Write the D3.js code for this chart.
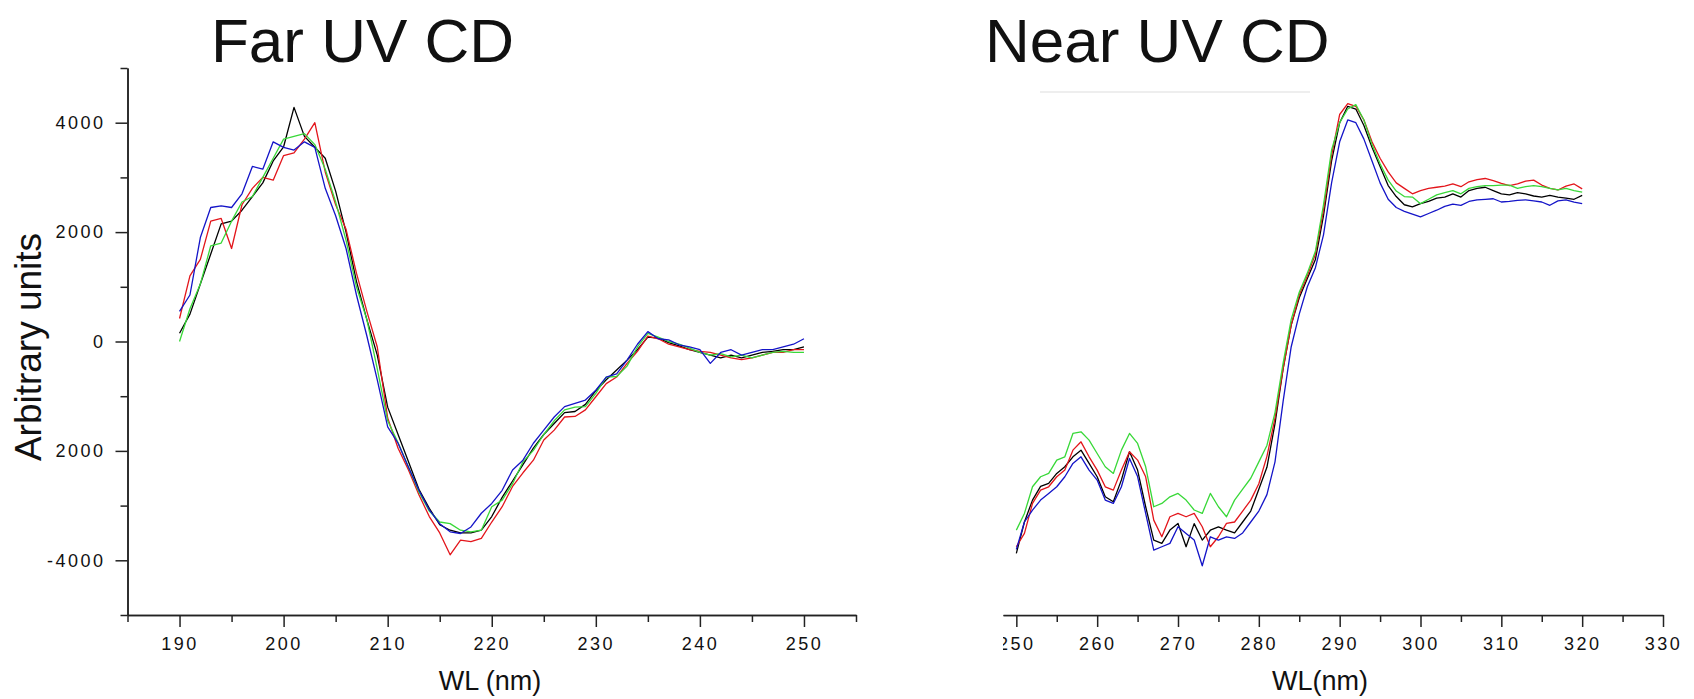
<!DOCTYPE html>
<html>
<head>
<meta charset="utf-8">
<script src="https://cdn.jsdelivr.net/npm/d3@7"></script>
<style>
  body { margin: 0; background: #fff; }
  svg text { font-family: "Liberation Sans", Arial, sans-serif; fill: #111; }
</style>
</head>
<body>
<svg id="chart" width="1694" height="699"></svg>
<script>
// wavelength grids (nm)
const farWl = d3.range(190, 251);
const nearWl = d3.range(250, 321);

// Far UV CD, 190..250 nm
const farBlack = [150, 500, 1050, 1600, 2150, 2200, 2400, 2650, 2900, 3300,
  3560, 4280, 3750, 3550, 3350, 2750, 2000, 1100, 400, -250,
  -1200, -1700, -2200, -2700, -3050, -3350, -3450, -3500, -3500, -3450,
  -3200, -2850, -2550, -2250, -1950, -1700, -1500, -1300, -1280, -1150,
  -900, -700, -520, -340, -150, 80, 60, -20, -80, -150,
  -200, -250, -300, -250, -300, -250, -200, -180, -150, -150, -100];
const farRed = [420, 1200, 1500, 2200, 2250, 1700, 2500, 2800, 3000, 2950,
  3400, 3450, 3700, 4000, 3100, 2500, 2050, 1250, 550, -100,
  -1400, -1950, -2350, -2800, -3200, -3500, -3900, -3630, -3660, -3600,
  -3300, -3020, -2650, -2400, -2170, -1800, -1620, -1380, -1370, -1250,
  -1010, -770, -650, -400, -180, 100, 50, -50, -100, -150,
  -180, -200, -250, -300, -330, -300, -250, -200, -200, -150, -150];
const farGreen = [0, 600, 1050, 1750, 1800, 2200, 2550, 2650, 3000, 3350,
  3700, 3750, 3800, 3600, 3150, 2550, 1850, 1000, 400, -500,
  -1450, -1850, -2300, -2750, -3100, -3300, -3330, -3450, -3480, -3450,
  -3020, -2900, -2600, -2200, -1990, -1700, -1450, -1250, -1200, -1190,
  -950, -650, -640, -450, -100, 150, 80, 0, -50, -120,
  -200, -250, -220, -280, -250, -300, -250, -200, -180, -200, -200];
const farBlue = [550, 850, 1900, 2450, 2480, 2450, 2700, 3200, 3150, 3650,
  3550, 3500, 3650, 3550, 2800, 2300, 1700, 850, 100, -700,
  -1560, -1860, -2300, -2720, -3080, -3330, -3480, -3510, -3390, -3140,
  -2960, -2720, -2350, -2170, -1860, -1620, -1380, -1190, -1130, -1070,
  -890, -650, -590, -340, -50, 180, 50, 30, -60, -100,
  -150, -400, -200, -150, -250, -200, -150, -150, -100, -50, 50];

// Near UV CD, 250..320 nm
const nearBlack = [-3874, -3300, -2900, -2650, -2595, -2412, -2290, -2108, -1986, -2229,
  -2473, -2839, -2930, -2530, -2016, -2351, -3021, -3630, -3691, -3448,
  -3326, -3752, -3330, -3630, -3450, -3390, -3450, -3500, -3300, -3100,
  -2700, -2300, -1500, -500, 300, 800, 1150, 1500, 2300, 3300,
  4000, 4300, 4250, 3950, 3550, 3200, 2850, 2650, 2500, 2460,
  2520, 2560, 2620, 2640, 2700, 2640, 2760, 2800, 2820, 2760,
  2700, 2680, 2720, 2700, 2660, 2640, 2670, 2640, 2620, 2600, 2670];
const nearRed = [-3752, -3508, -2960, -2717, -2656, -2473, -2351, -1986, -1834, -2108,
  -2351, -2656, -2717, -2351, -2016, -2168, -2473, -3265, -3569, -3204,
  -3143, -3204, -3143, -3387, -3752, -3569, -3326, -3300, -3100, -2900,
  -2600, -2100, -1400, -500, 300, 850, 1200, 1600, 2400, 3400,
  4150, 4350, 4300, 4050, 3650, 3350, 3100, 2900, 2800, 2700,
  2760, 2800, 2820, 2840, 2880, 2830, 2920, 2960, 2980, 2940,
  2890, 2850, 2880, 2930, 2950, 2860, 2800, 2770, 2840, 2880, 2790];
const nearGreen = [-3448, -3143, -2656, -2473, -2412, -2168, -2108, -1681, -1651, -1803,
  -2047, -2290, -2412, -1986, -1681, -1864, -2290, -3021, -2960, -2840,
  -2778, -2899, -3080, -3143, -2778, -3021, -3204, -2900, -2700, -2500,
  -2200, -1900, -1300, -400, 400, 900, 1250, 1650, 2500, 3500,
  4000, 4250, 4330, 4050, 3600, 3250, 2950, 2750, 2650, 2640,
  2520, 2600, 2680, 2720, 2760, 2700, 2800, 2830, 2850, 2850,
  2860, 2860, 2800, 2830, 2850, 2830, 2800, 2770, 2800, 2760, 2730];
const nearBlue = [-3800, -3300, -3082, -2899, -2778, -2656, -2473, -2229, -2108, -2351,
  -2534, -2899, -2960, -2656, -2138, -2470, -3143, -3813, -3752, -3691,
  -3387, -3508, -3630, -4100, -3570, -3630, -3570, -3600, -3500, -3300,
  -3100, -2800, -2200, -1100, -100, 500, 1000, 1350, 1950, 2900,
  3650, 4050, 4000, 3700, 3300, 2900, 2600, 2450, 2380, 2330,
  2280, 2340, 2400, 2470, 2510, 2490, 2560, 2590, 2600, 2610,
  2550, 2560, 2580, 2590, 2570, 2550, 2490, 2570, 2590, 2550, 2520];

// ticks
const yTicks = [-4000, -2000, 0, 2000, 4000];
const yLabels = ['-4000', '2000', '0', '2000', '4000'];
const yMinor = [-5000, -3000, -1000, 1000, 3000, 5000];
const farTicks = [190, 200, 210, 220, 230, 240, 250];
const farMinor = [185, 195, 205, 215, 225, 235, 245, 255];
const nearTicks = [250, 260, 270, 280, 290, 300, 310, 320, 330];
const nearMinor = [255, 265, 275, 285, 295, 305, 315, 325];

const colors = ['#000000', '#e3151b', '#38d838', '#1414c8'];

const svg = d3.select('#chart');

const y = d3.scaleLinear().domain([-5000, 5000]).range([615, 68]);
const xFar = d3.scaleLinear().domain([185, 255]).range([127.5, 856]);
const xNear = d3.scaleLinear().domain([248.35, 330]).range([1003, 1663]);

function styleAxis(g) {
  g.attr('font-family', null).attr('font-size', null);
  g.selectAll('path, line').attr('stroke', '#222').attr('stroke-width', 1.5);
  g.selectAll('text')
    .attr('fill', '#222')
    .style('font-family', '"Liberation Sans Narrow", "Liberation Sans", Arial, sans-serif')
    .style('font-size', '18px')
    .style('letter-spacing', '2.5px');
}

function bottomAxis(x, major, minor) {
  svg.append('g')
    .attr('transform', 'translate(0,615)')
    .call(d3.axisBottom(x).tickValues(minor).tickSize(7).tickSizeOuter(0).tickFormat(''))
    .call(styleAxis);
  return svg.append('g')
    .attr('transform', 'translate(0,615)')
    .call(d3.axisBottom(x).tickValues(major).tickSize(12).tickSizeOuter(0)
      .tickPadding(10).tickFormat(d3.format('d')))
    .call(styleAxis);
}

// left panel axes
svg.append('g')
  .attr('transform', 'translate(127.5,0)')
  .call(d3.axisLeft(y).tickValues(yMinor).tickSize(7).tickSizeOuter(0).tickFormat(''))
  .call(styleAxis);
svg.append('g')
  .attr('transform', 'translate(127.5,0)')
  .call(d3.axisLeft(y).tickValues(yTicks).tickSize(12).tickSizeOuter(0)
    .tickPadding(10).tickFormat((d, i) => yLabels[i]))
  .call(styleAxis);
bottomAxis(xFar, farTicks, farMinor);

// right panel axis, first label is cut at the left edge
svg.append('defs').append('clipPath').attr('id', 'nearClip')
  .append('rect').attr('x', 1003).attr('y', 0).attr('width', 700).attr('height', 699);
bottomAxis(xNear, nearTicks, nearMinor).attr('clip-path', 'url(#nearClip)');

// faint frame remnant at top of the near UV panel
svg.append('line')
  .attr('x1', 1040).attr('x2', 1310).attr('y1', 92).attr('y2', 92)
  .attr('stroke', '#e8e8e8').attr('stroke-width', 1.5);

// curves
function drawSet(x, wl, sets) {
  const line = d3.line()
    .x((d, i) => x(wl[i]))
    .y(d => y(d));
  svg.append('g')
    .selectAll('path')
    .data(sets)
    .enter()
    .append('path')
    .attr('d', line)
    .attr('fill', 'none')
    .attr('stroke', (d, i) => colors[i])
    .attr('stroke-width', 1.3)
    .attr('stroke-linejoin', 'round');
}
drawSet(xFar, farWl, [farBlack, farRed, farGreen, farBlue]);
drawSet(xNear, nearWl, [nearBlack, nearRed, nearGreen, nearBlue]);

// titles
svg.append('text').attr('x', 211).attr('y', 62)
  .style('font-size', '62px').text('Far UV CD');
svg.append('text').attr('x', 985).attr('y', 62)
  .style('font-size', '62px').text('Near UV CD');
svg.append('text')
  .attr('transform', 'translate(41,347) rotate(-90)')
  .attr('text-anchor', 'middle').style('font-size', '37px').text('Arbitrary units');
svg.append('text').attr('x', 490).attr('y', 690)
  .attr('text-anchor', 'middle').style('font-size', '27px').text('WL (nm)');
svg.append('text').attr('x', 1320).attr('y', 690)
  .attr('text-anchor', 'middle').style('font-size', '27px').text('WL(nm)');
</script>
</body>
</html>
